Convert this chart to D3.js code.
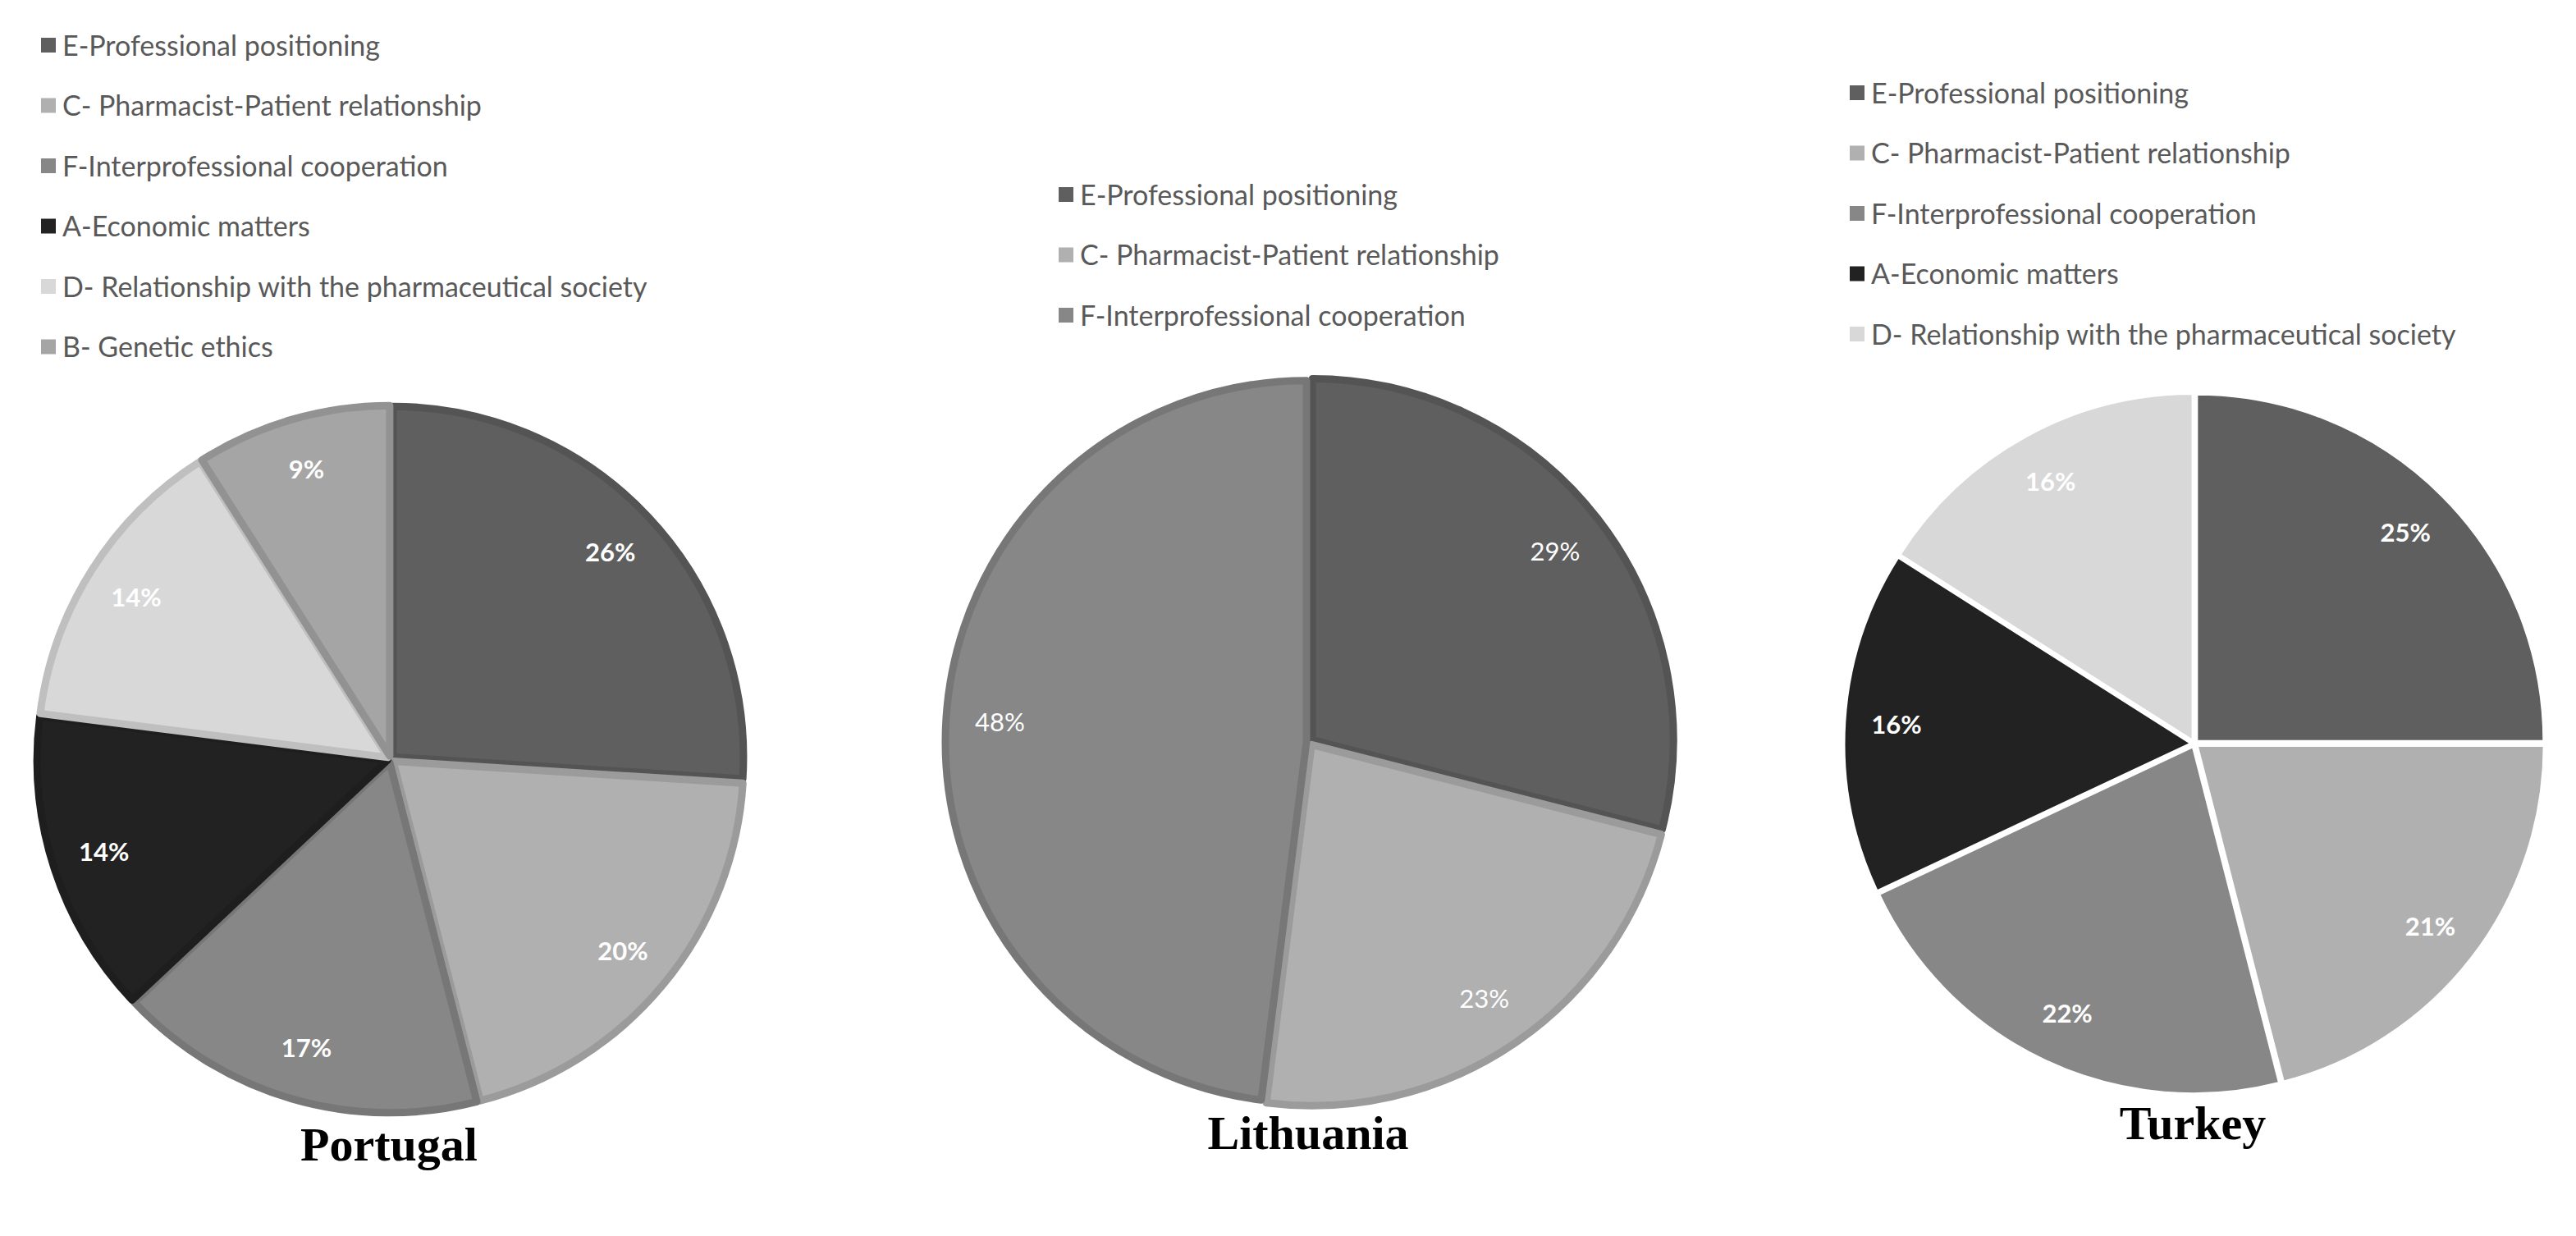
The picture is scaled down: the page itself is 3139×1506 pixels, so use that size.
<!DOCTYPE html>
<html><head><meta charset="utf-8">
<script src="https://cdn.jsdelivr.net/npm/d3@7"></script>
<style>body{margin:0;background:#fff}svg{display:block}</style>
</head><body>
<svg id="chart" width="3139" height="1506"></svg>
<script>
// categories shared by all three pies, and their grey fills
var categories = ["E-Professional positioning", "C- Pharmacist-Patient relationship",
  "F-Interprofessional cooperation", "A-Economic matters",
  "D- Relationship with the pharmaceutical society", "B- Genetic ethics"];
var fills = ["#5f5f5f", "#b0b0b0", "#878787", "#222222", "#d8d8d8", "#a5a5a5"];

var portugal = [26, 20, 17, 14, 14, 9];
var lithuania = [29, 23, 48];
var turkey = [25, 21, 22, 16, 16];

var pies = [
  {name: "Portugal", values: portugal, cx: 476, cy: 925, r: 432, bold: true, stroke: "darker",
   legendX: 50, legendY: 56, titleY: 1394},
  {name: "Lithuania", values: lithuania, cx: 1596, cy: 904, r: 445, bold: false, stroke: "darker",
   legendX: 1290, legendY: 238, titleY: 1380},
  {name: "Turkey", values: turkey, cx: 2674, cy: 906, r: 428, bold: true, stroke: "white",
   legendX: 2254, legendY: 114, titleY: 1368}
];

var svg = d3.select("#chart");
var pie = d3.pie().sort(null).value(function(d){ return d; });

pies.forEach(function(p) {
  var g = svg.append("g").attr("transform", "translate(" + p.cx + "," + p.cy + ")");
  var arc = d3.arc().innerRadius(0).outerRadius(p.r - 5);
  var labelArc = d3.arc().innerRadius(p.r * 0.85).outerRadius(p.r * 0.85);
  var arcs = pie(p.values);

  g.selectAll("path").data(arcs).enter().append("path")
    .attr("d", arc)
    .attr("transform", function(d) {
      var a = (d.startAngle + d.endAngle) / 2;
      return "translate(" + (Math.sin(a) * 4) + "," + (-Math.cos(a) * 4) + ")";
    })
    .attr("fill", function(d, i){ return fills[i]; })
    .attr("stroke", function(d, i) {
      return p.stroke === "white" ? "#ffffff" : d3.color(fills[i]).darker(0.35);
    })
    .attr("stroke-width", p.stroke === "white" ? 3 : 9)
    .attr("stroke-linejoin", "round");

  g.selectAll("text.pct").data(arcs).enter().append("text")
    .attr("class", "pct")
    .attr("transform", function(d){ return "translate(" + labelArc.centroid(d) + ")"; })
    .attr("text-anchor", "middle").attr("dy", "0.35em")
    .attr("fill", "#fff")
    .attr("font-family", "Lato, sans-serif")
    .attr("font-weight", p.bold ? "bold" : "normal")
    .attr("font-size", 31)
    .text(function(d){ return d.data + "%"; });

  var lg = svg.append("g").attr("transform", "translate(" + p.legendX + "," + p.legendY + ")");
  var items = lg.selectAll("g").data(p.values).enter().append("g")
    .attr("transform", function(d, i){ return "translate(0," + (i * 73.5) + ")"; });
  items.append("rect").attr("x", 0).attr("y", -10).attr("width", 18).attr("height", 18)
    .attr("fill", function(d, i){ return fills[i]; });
  items.append("text").attr("x", 26).attr("dy", "0.35em")
    .attr("font-family", "Lato, sans-serif").attr("font-size", 34).attr("fill", "#595959")
    .text(function(d, i){ return categories[i]; });

  svg.append("text").attr("x", p.cx - 2).attr("y", p.titleY)
    .attr("text-anchor", "middle").attr("dy", "0.35em")
    .attr("font-family", "'Liberation Serif', serif").attr("font-weight", "bold")
    .attr("font-size", 58).attr("fill", "#000")
    .text(p.name);
});
</script>
</body></html>
